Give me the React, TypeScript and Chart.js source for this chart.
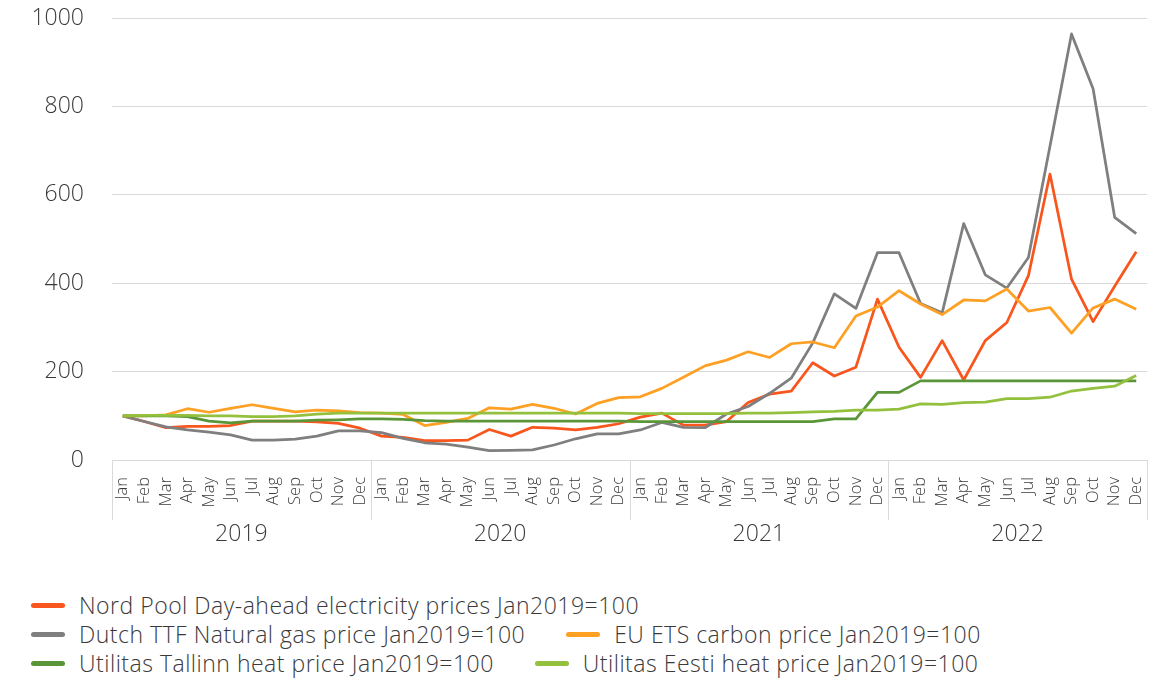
import React, { useEffect, useRef } from 'react';
import { Chart, registerables } from 'chart.js';

Chart.register(...registerables);

const months = ['Jan', 'Feb', 'Mar', 'Apr', 'May', 'Jun', 'Jul', 'Aug', 'Sep', 'Oct', 'Nov', 'Dec'];
const years = ['2019', '2020', '2021', '2022'];
const monthLabels = years.flatMap(() => months);

const nordPool = [
  100, 87, 73, 76, 76, 78, 88, 88, 88, 86, 83, 72,
  54, 51, 44, 44, 45, 69, 54, 74, 72, 68, 74, 82,
  97, 106, 79, 79, 87, 130, 149, 156, 220, 190, 210, 364,
  255, 187, 270, 181, 270, 311, 417, 647, 409, 313, 393, 471,
];
const ttfGas = [
  100, 87, 75, 68, 63, 57, 45, 45, 47, 54, 66, 66,
  62, 49, 39, 36, 29, 21, 22, 23, 34, 48, 59, 59,
  68, 85, 74, 73, 104, 121, 151, 185, 265, 376, 343, 469,
  469, 354, 333, 535, 419, 389, 458, 710, 964, 840, 549, 512,
];
const etsCarbon = [
  100, 100, 102, 116, 108, 117, 125, 117, 109, 113, 111, 107,
  106, 103, 78, 85, 94, 118, 115, 126, 117, 104, 128, 141,
  143, 162, 187, 213, 226, 245, 232, 263, 267, 254, 326, 346,
  383, 353, 329, 362, 360, 387, 337, 345, 287, 344, 364, 341,
];
const tallinnHeat = [
  100, 100, 100, 98, 88, 84, 88, 88, 88, 90, 91, 93,
  93, 92, 89, 88, 88, 88, 88, 88, 88, 88, 88, 88,
  87, 87, 87, 87, 87, 87, 87, 87, 87, 93, 93, 153,
  153, 179, 179, 179, 179, 179, 179, 179, 179, 179, 179, 179,
];
const eestiHeat = [
  100, 101, 101, 101, 100, 100, 98, 98, 100, 104, 106, 106,
  106, 106, 106, 106, 106, 106, 106, 106, 106, 106, 106, 106,
  105, 105, 105, 105, 105, 106, 106, 107, 109, 110, 113, 113,
  115, 127, 126, 130, 131, 139, 139, 142, 156, 162, 167, 191,
];

const seriesNames = [
  'Nord Pool Day-ahead electricity prices Jan2019=100',
  'Dutch TTF Natural gas price Jan2019=100',
  'EU ETS carbon price Jan2019=100',
  'Utilitas Tallinn heat price Jan2019=100',
  'Utilitas Eesti heat price Jan2019=100',
];
const seriesValues = [nordPool, ttfGas, etsCarbon, tallinnHeat, eestiHeat];
const seriesColors = ['#F9561E', '#7F7F80', '#FDA023', '#5A9638', '#93C13D'];
const legendRows = [[0], [1, 2], [3, 4]];

const yTicks = [0, 200, 400, 600, 800, 1000];

const FONT = "'Open Sans', Lato, sans-serif";
const WEIGHT = 300;
const TEXT = '#3A3A3A';
const GRID = '#D9D9D9';

const yearGroupsPlugin = {
  id: 'yearGroups',
  afterDraw(chart: any) {
    const xs = chart.scales.x;
    const ctx = chart.ctx;
    const step = xs.getPixelForValue(1) - xs.getPixelForValue(0);
    const top = xs.top;
    ctx.save();
    ctx.strokeStyle = GRID;
    ctx.lineWidth = 1;
    for (let g = 0; g <= years.length; g++) {
      const px = Math.round(xs.getPixelForValue(g * 12) - step / 2) + 0.5;
      ctx.beginPath();
      ctx.moveTo(px, top);
      ctx.lineTo(px, top + 60);
      ctx.stroke();
    }
    ctx.fillStyle = TEXT;
    ctx.font = `${WEIGHT} 23px ${FONT}`;
    ctx.textAlign = 'center';
    ctx.textBaseline = 'middle';
    years.forEach((yr, g) => {
      const cx = (xs.getPixelForValue(g * 12) + xs.getPixelForValue(g * 12 + 11)) / 2;
      ctx.fillText(yr, cx, top + 74);
    });
    ctx.restore();
  },
};

export default function App() {
  const canvasRef = useRef<HTMLCanvasElement>(null);

  useEffect(() => {
    document.body.style.margin = '0';
    if (!canvasRef.current) return;
    const chart = new Chart(canvasRef.current, {
      type: 'line',
      data: {
        labels: monthLabels,
        datasets: seriesNames.map((name, i) => ({
          label: name,
          data: seriesValues[i],
          borderColor: seriesColors[i],
          backgroundColor: seriesColors[i],
          borderWidth: 2.75,
          pointRadius: 0,
          tension: 0,
          borderJoinStyle: 'round' as const,
          order: seriesNames.length - i,
        })),
      },
      options: {
        animation: false,
        responsive: true,
        maintainAspectRatio: false,
        layout: { padding: { left: 22, right: 11, top: 0, bottom: 0 } },
        plugins: {
          legend: { display: false },
          tooltip: { enabled: false },
        },
        scales: {
          x: {
            type: 'category',
            offset: true,
            grid: { display: false },
            border: { display: true, color: GRID, width: 1 },
            ticks: {
              autoSkip: false,
              maxRotation: 90,
              minRotation: 90,
              padding: 9,
              color: TEXT,
              font: { family: FONT, size: 16.5, weight: WEIGHT as any },
            },
            afterFit: (scale: any) => {
              scale.height = 100;
              scale.paddingLeft = 0;
              scale.paddingRight = 0;
            },
          },
          y: {
            min: 0,
            max: 1000,
            afterBuildTicks: (scale: any) => {
              scale.ticks = yTicks.map((v) => ({ value: v }));
            },
            afterFit: (scale: any) => {
              scale.width = 82;
              scale.paddingTop = 10;
              scale.paddingBottom = 10;
            },
            grid: { color: GRID, lineWidth: 1, drawTicks: false },
            border: { display: false },
            ticks: {
              padding: 28,
              color: TEXT,
              font: { family: FONT, size: 23, weight: WEIGHT as any },
              callback: (v: any) => String(v),
            },
          },
        },
      },
      plugins: [yearGroupsPlugin],
    });
    return () => chart.destroy();
  }, []);

  return (
    <div style={{ position: 'relative', width: 1166, height: 679, overflow: 'hidden', fontFamily: FONT }}>
      <div style={{ position: 'absolute', left: 8, top: 8, width: 1150, height: 552 }}>
        <canvas ref={canvasRef} />
      </div>
      <div style={{ position: 'absolute', left: 31, top: 591 }}>
        {legendRows.map((row, r) => (
          <div key={r} style={{ display: 'flex', alignItems: 'center', height: 29 }}>
            {row.map((idx, k) => (
              <div key={idx} style={{ display: 'flex', alignItems: 'center', marginLeft: k > 0 ? 41 : 0 }}>
                <span
                  style={{
                    display: 'inline-block',
                    width: 34,
                    height: 5,
                    borderRadius: 3,
                    background: seriesColors[idx],
                    marginRight: 14,
                  }}
                />
                <span
                  style={{
                    fontSize: 23,
                    fontWeight: WEIGHT,
                    letterSpacing: 0.5,
                    color: TEXT,
                    whiteSpace: 'nowrap',
                    lineHeight: '29px',
                  }}
                >
                  {seriesNames[idx]}
                </span>
              </div>
            ))}
          </div>
        ))}
      </div>
    </div>
  );
}
